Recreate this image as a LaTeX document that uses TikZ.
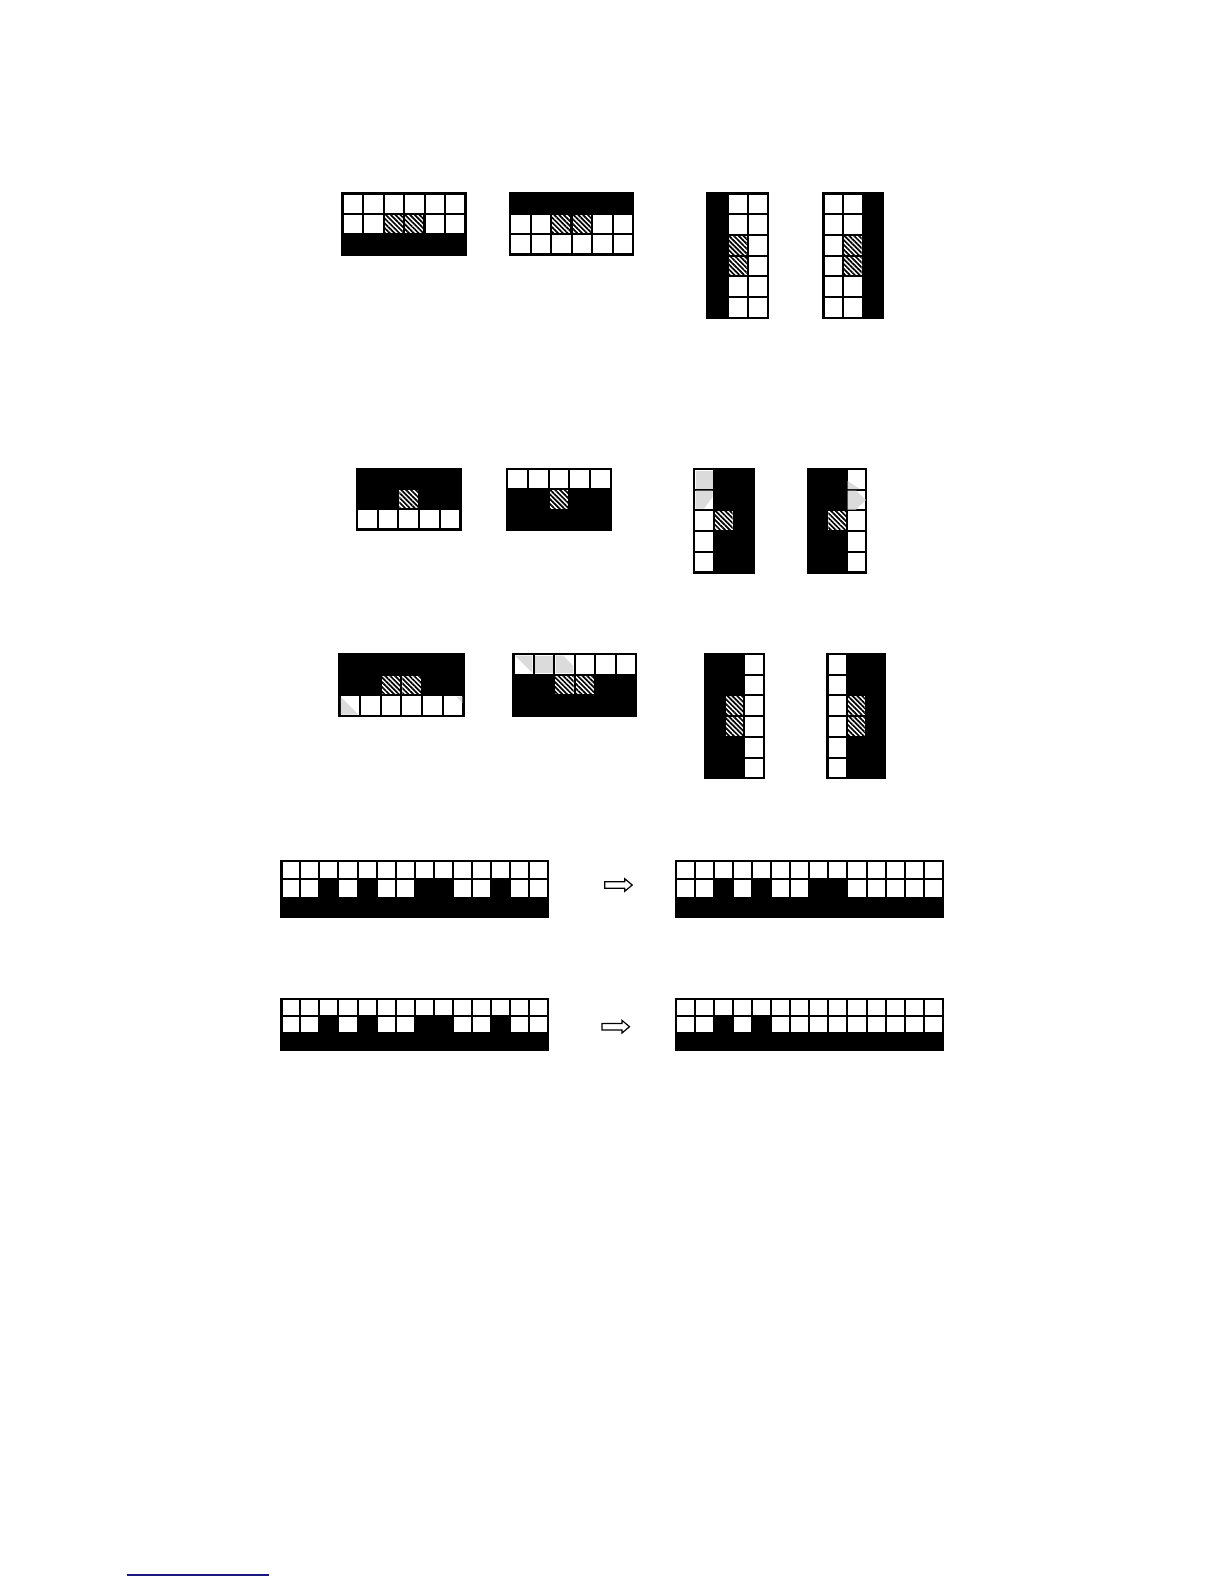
\documentclass[tikz,border=0pt]{standalone}
\usepackage{tikz}
\usetikzlibrary{calc,patterns.meta}

\definecolor{linkblue}{RGB}{24,24,128}

% one board: corner, cell width, cell height (px), columns, rows,
% white runs a/b/row, hatched cells c/r
\newcommand{\board}[7]{%
  \pgfmathsetmacro\cwpt{#2*0.5}%
  \pgfmathsetmacro\chpt{#3*0.5}%
  \begin{scope}[shift={#1}, x=\cwpt pt, y=-\chpt pt]
    \fill[black] (0,0) rectangle (#4,#5);
    \foreach \a/\b/\r in {#6} {
      \foreach \c in {\a,...,\b} \draw[whitecell] (\c,\r) rectangle ++(1,1);
    }
    \if\relax\detokenize{#7}\relax\else
      \foreach \c/\r in {#7} \fill[hatchcell] ($(\c,\r)+(0.05,0.05)$) rectangle ($(\c,\r)+(0.95,0.95)$);
    \fi
    \draw[frame] (0,0) rectangle (#4,#5);
  \end{scope}}

\begin{document}
\begin{tikzpicture}[x=0.5pt,y=-0.5pt,
  whitecell/.style={fill=white, draw=black, line width=1pt},
  hatchcell/.style={preaction={fill=white}, pattern={Lines[angle=-45,distance=1.7pt,line width=0.85pt]}},
  frame/.style={draw=black, line width=1.2pt},
  shade/.style={fill=black!14},
  outarrow/.style={draw=black, fill=white, line width=0.6pt, line join=miter}]
\useasboundingbox (0,0) rectangle (1224,1584);

% top row
\coordinate (topA) at (342.5,193.5);
\coordinate (topB) at (510,193.5);
\coordinate (topC) at (707.5,193.5);
\coordinate (topD) at (823.5,193.5);
\board{(topA)}{20.5}{20.3}{6}{3}{0/5/0, 0/1/1, 4/5/1}{2/1, 3/1}
\board{(topB)}{20.5}{20.3}{6}{3}{0/1/1, 4/5/1, 0/5/2}{2/1, 3/1}
\board{(topC)}{20.2}{20.7}{3}{6}{1/2/0, 1/2/1, 2/2/2, 2/2/3, 1/2/4, 1/2/5}{1/2, 1/3}
\board{(topD)}{19.6}{20.7}{3}{6}{0/1/0, 0/1/1, 0/0/2, 0/0/3, 0/1/4, 0/1/5}{1/2, 1/3}

% middle row, one hatched cell
\coordinate (midA) at (357,469);
\coordinate (midB) at (507,469);
\coordinate (midC) at (694,469);
\coordinate (midD) at (808,469);
\board{(midA)}{20.7}{20.2}{5}{3}{0/4/2}{2/1}
\board{(midB)}{20.8}{20.3}{5}{3}{0/4/0}{2/1}
\board{(midC)}{19.8}{20.7}{3}{5}{0/0/0, 0/0/1, 0/0/2, 0/0/3, 0/0/4}{1/2}
\board{(midD)}{19.4}{20.7}{3}{5}{2/2/0, 2/2/1, 2/2/2, 2/2/3, 2/2/4}{1/2}

% grey traces in the white cells
\fill[shade] ($(midC)+(1.5,1.5)$) rectangle ($(midC)+(18.5,19.5)$);
\fill[shade] ($(midC)+(1.5,21.5)$) -- ($(midC)+(18.5,21.5)$) -- ($(midC)+(18.5,28)$)
  -- ($(midC)+(10,39.5)$) -- ($(midC)+(1.5,39.5)$) -- cycle;
\fill[shade] ($(midD)+(39.5,12)$) -- ($(midD)+(52,20)$) -- ($(midD)+(39.5,20)$) -- cycle;
\fill[shade] ($(midD)+(39.5,21.5)$) -- ($(midD)+(48,21.5)$) -- ($(midD)+(58,31)$)
  -- ($(midD)+(48,40.5)$) -- ($(midD)+(39.5,40.5)$) -- cycle;

% lower middle row, two hatched cells
\coordinate (lowA) at (339.3,654);
\coordinate (lowB) at (513.3,654);
\coordinate (lowC) at (704.7,654);
\coordinate (lowD) at (827.3,654);
\board{(lowA)}{20.7}{20.7}{6}{3}{0/5/2}{2/1, 3/1}
\board{(lowB)}{20.45}{20.7}{6}{3}{0/5/0}{2/1, 3/1}
\board{(lowC)}{19.8}{20.7}{3}{6}{2/2/0, 2/2/1, 2/2/2, 2/2/3, 2/2/4, 2/2/5}{1/2, 1/3}
\board{(lowD)}{19.3}{20.7}{3}{6}{0/0/0, 0/0/1, 0/0/2, 0/0/3, 0/0/4, 0/0/5}{1/2, 1/3}

\fill[shade] ($(lowA)+(1.5,43)$) -- ($(lowA)+(19,60.5)$) -- ($(lowA)+(1.5,60.5)$) -- cycle;
\fill[shade] ($(lowA)+(117,42.5)$) -- ($(lowA)+(123,42.5)$) -- ($(lowA)+(123,49)$) -- cycle;
\fill[shade] ($(lowB)+(1.5,1.5)$) -- ($(lowB)+(19,1.5)$) -- ($(lowB)+(19,19)$) -- cycle;
\fill[shade] ($(lowB)+(21.9,1.5)$) rectangle ($(lowB)+(39.5,19.2)$);
\fill[shade] ($(lowB)+(42.4,1.5)$) -- ($(lowB)+(50,1.5)$) -- ($(lowB)+(59.8,12)$)
  -- ($(lowB)+(59.8,19.2)$) -- ($(lowB)+(42.4,19.2)$) -- cycle;

% long strips and their results
\coordinate (stripA) at (281.3,860.7);
\coordinate (stripB) at (676,860.7);
\coordinate (stripC) at (281.3,998.7);
\coordinate (stripD) at (676,998.7);
\board{(stripA)}{19.05}{18.7}{14}{3}{0/13/0, 0/1/1, 3/3/1, 5/6/1, 9/10/1, 12/13/1}{}
\board{(stripB)}{19.05}{18.7}{14}{3}{0/13/0, 0/1/1, 3/3/1, 5/6/1, 9/13/1}{}
\board{(stripC)}{19.05}{16.9}{14}{3}{0/13/0, 0/1/1, 3/3/1, 5/6/1, 9/10/1, 12/13/1}{}
\board{(stripD)}{19.05}{16.9}{14}{3}{0/13/0, 0/1/1, 3/3/1, 5/13/1}{}

% outline arrows
\coordinate (arrA) at (604.7,885);
\coordinate (arrB) at (602,1026.7);
\foreach \p in {arrA, arrB} {
  \draw[outarrow] ($(\p)+(0,-3.3)$) -- ($(\p)+(20,-3.3)$) -- ($(\p)+(20,-6.3)$) -- ($(\p)+(27.5,0)$)
    -- ($(\p)+(20,6.3)$) -- ($(\p)+(20,3.3)$) -- ($(\p)+(0,3.3)$) -- cycle;
}

% rule at the foot
\coordinate (ruleL) at (126.7,1575);
\coordinate (ruleR) at (269.3,1575);
\draw[linkblue, line width=0.7pt] (ruleL) -- (ruleR);
\end{tikzpicture}
\end{document}
